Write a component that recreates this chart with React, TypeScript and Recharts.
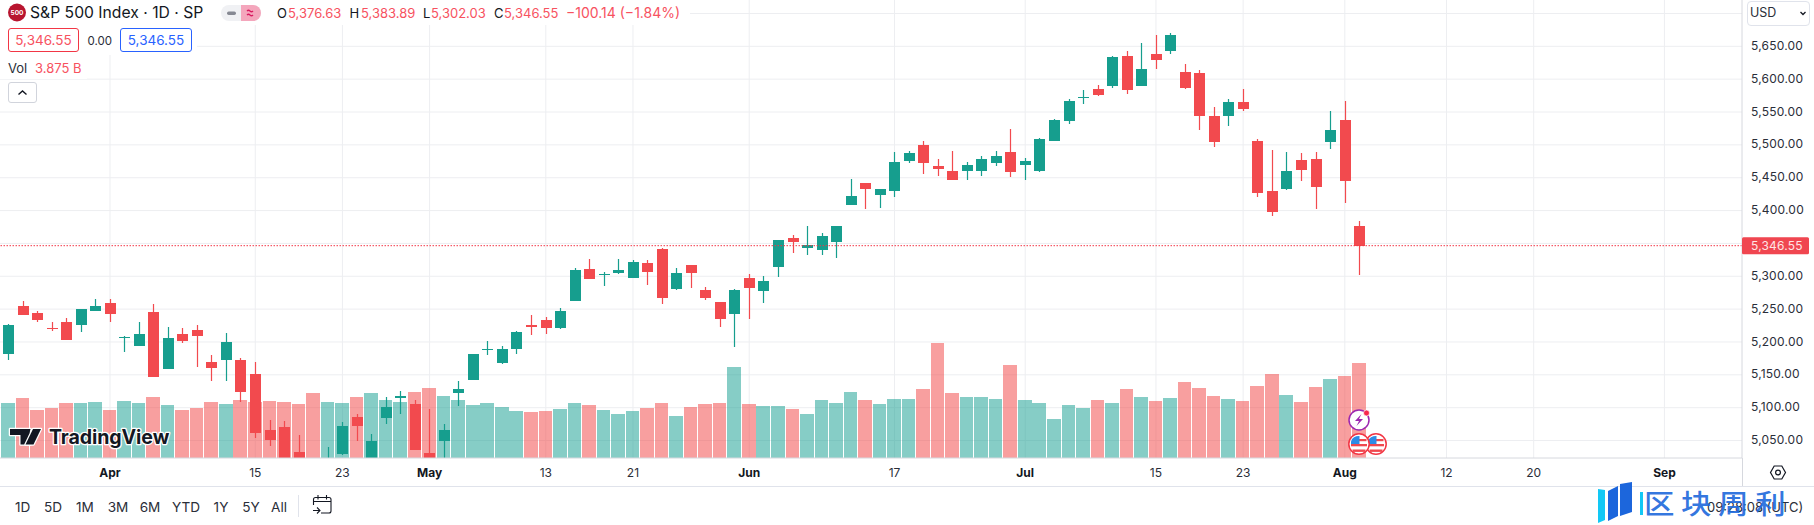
import React from "react";
import { ComposedChart, Bar, XAxis, YAxis, CartesianGrid, ReferenceLine } from "recharts";

// ---- series values ----
const opens = [5181.7,5254.8,5244.1,5221.3,5230.4,5225.9,5247.2,5259.4,5206.1,5193.9,5245.7,5158.9,5212.2,5218.3,5169.6,5172.6,5172.6,5151.3,5066.1,5070.6,5032,5005,4987,5029.5,5085.8,5019,5084.3,5114.8,5105.6,5031,5049.3,5122.4,5142.1,5187.8,5168,5189.3,5225.8,5233.4,5221.3,5262.3,5311.1,5302,5305,5297.4,5320.2,5341.5,5280.6,5317.2,5279.1,5260.8,5242.6,5297.4,5277.6,5314.1,5358.3,5343,5340,5352.2,5408.5,5442,5423.7,5429.8,5475.5,5499.8,5467.9,5460.3,5460.3,5460.3,5472.4,5489.2,5469.4,5460.3,5505.9,5536.3,5571.4,5585,5589.6,5635.3,5589.6,5638.3,5642.9,5611,5609.4,5544,5544,5565.3,5505.9,5429.8,5432.8,5477,5478.5,5504.4,5537.9,5376.63];
const highs = [5227.4,5262.4,5247.2,5230.4,5236.5,5250.2,5265.5,5265.5,5209.1,5230.4,5257.8,5222.8,5221.3,5225.9,5180.2,5213.7,5175.6,5169.6,5081.3,5079.8,5058,5019,5040,5078,5090.4,5060,5116.3,5125.4,5111.7,5098,5075.2,5140.6,5181.7,5201.5,5193.9,5216.7,5241.1,5238,5251.7,5312.6,5326.3,5306.5,5326.3,5324.8,5324.8,5343,5312.6,5317.2,5283.7,5260.8,5280.6,5303.5,5300.4,5355.2,5362.8,5376.5,5365.9,5376.5,5448,5442,5432.8,5489.2,5490.7,5505.9,5478.5,5490.7,5474,5483.1,5490.7,5524.2,5480,5510.5,5539.4,5569.8,5583.5,5591.2,5635.3,5642.9,5655.1,5667.3,5670.3,5623.1,5614,5557.7,5569.8,5585,5509,5492.2,5489.2,5487.6,5489.2,5551.6,5566.8,5383.89];
const lows = [5172.6,5241,5230.4,5216.7,5203,5215.2,5247,5230.4,5184.8,5193.9,5146.7,5158.9,5198.5,5161.9,5140.6,5140.6,5108.7,5053.9,5041.7,5010,5001,4953,4974,5028,5049.3,5000,5075.2,5090.4,5035.6,5006,5010,5102.5,5142.1,5180,5166.5,5181.7,5210.6,5212.1,5219.7,5262.3,5295.8,5285.2,5303.5,5297.4,5286.7,5257.8,5279.1,5282.1,5263.9,5222.8,5192.3,5235,5259.3,5298.9,5335.4,5332.4,5332.4,5327.8,5408.5,5402.4,5403.9,5420.7,5472.4,5455.7,5452.6,5446.5,5446.5,5452.6,5467.9,5451.1,5446.5,5458.7,5505.9,5531.8,5562.2,5574.4,5586.6,5577.5,5589.6,5615.5,5638.3,5585.1,5522.7,5496.8,5528.7,5551.6,5420.7,5391.7,5431.3,5445,5402.4,5493.7,5411.5,5302.03];
const closes = [5225.9,5241.1,5233.5,5219.8,5203,5250.2,5254.8,5242.6,5207.6,5212.2,5146.7,5206.1,5201.5,5209.1,5160.4,5200,5123.9,5061.5,5050.8,5022,5011,4967,5010,5072,5072,5049.3,5101,5117.8,5035.6,5018,5066,5128.4,5181.7,5189.3,5189.3,5215.2,5222.8,5221.3,5247.1,5309.5,5295.8,5303.5,5309.5,5321.7,5306.5,5266.9,5305,5305,5266.9,5235,5279.1,5282.1,5292.8,5355.2,5352.2,5347.6,5361.3,5376.5,5422.2,5432.8,5432.8,5473.9,5487.6,5472.4,5463.3,5446.5,5469.4,5478.5,5483.1,5458.7,5475.5,5509,5537.9,5566.8,5572.9,5575.9,5633.8,5583.5,5615.5,5629.2,5667.3,5586.6,5544,5504.4,5565.3,5554.6,5426.8,5397.8,5460.3,5461.8,5435.9,5522.7,5445,5346.55];
// volume in billions
const volumes = [2.26,2.46,1.97,2.05,2.26,2.26,2.30,1.97,2.34,2.26,2.50,2.18,1.97,2.05,2.30,2.22,2.38,2.30,2.34,2.30,2.22,2.67,2.30,2.26,2.50,2.67,2.38,2.30,2.71,2.87,2.54,2.38,2.18,2.26,2.09,1.93,1.89,1.93,2.01,2.26,2.18,1.97,1.81,1.93,2.05,2.26,1.73,2.09,2.22,2.26,3.73,2.22,2.13,2.13,2.01,1.81,2.38,2.26,2.71,2.38,2.22,2.42,2.41,2.81,4.69,2.65,2.49,2.49,2.41,3.79,2.37,2.24,1.59,2.16,2.04,2.37,2.24,2.81,2.49,2.32,2.45,3.10,2.86,2.53,2.41,2.32,2.94,3.43,2.57,2.28,2.90,3.22,3.34,3.875];

const xTickPositions = [7,17,23,29,37,43,51,61,70,79,85,92,99,105,114];
const xTickLabels = ["Apr","15","23","May","13","21","Jun","17","Jul","15","23","Aug","12","20","Sep"];
const monthLabels = ["Apr","May","Jun","Jul","Aug","Sep"];
const priceTicks = [5050,5100,5150,5200,5250,5300,5350,5400,5450,5500,5550,5600,5650];
const gridPrices = [...priceTicks,5700];
const lastClose = 5346.55;
const rangeButtons = [["1D",22.7],["5D",53],["1M",85],["3M",118],["6M",150],["YTD",186],["1Y",221],["5Y",251],["All",279]] as const;

const UP = "#169E8E";
const DOWN = "#F24A4E";
const UP_VOL = "rgb(14,155,142)";
const DOWN_VOL = "rgb(241,64,64)";
const TEXT = "#2A2E39";
const FONT = "Inter, 'Liberation Sans', sans-serif";

const rows = opens.map((o, i) => ({
  i,
  open: o,
  high: highs[i],
  low: lows[i],
  close: closes[i],
  volume: volumes[i],
  range: [lows[i], highs[i]] as [number, number],
}));

const XDOMAIN: [number, number] = [-0.571, 119.34];
const labelOf = (v: number) => xTickLabels[xTickPositions.indexOf(v)];

function Candle(props: any) {
  const { x, y, width, height, payload } = props;
  const { open, high, low, close } = payload;
  const unit = height / (high - low);
  const color = close >= open ? UP : DOWN;
  const top = y + (high - Math.max(open, close)) * unit;
  const bot = y + (high - Math.min(open, close)) * unit;
  const left = Math.round(x);
  const w = Math.round(width);
  const t = Math.round(top);
  const h = Math.max(1, Math.round(bot) - t);
  return (
    <g>
      <rect x={left + (w - 1) / 2 - 0.1} y={Math.round(y)} width={1.2} height={Math.round(y + height) - Math.round(y)} fill={color} />
      <rect x={left} y={t} width={w} height={h} fill={color} />
    </g>
  );
}

function VolumeBar(props: any) {
  const { x, y, width, height, payload } = props;
  const left = Math.round(x);
  const right = Math.round(x + width);
  const color = payload.close >= payload.open ? UP_VOL : DOWN_VOL;
  return <rect x={left} y={Math.round(y)} width={right - left} height={Math.round(height)} fill={color} fillOpacity={0.5} />;
}

function PriceTick(props: any) {
  const { y, payload } = props;
  const isLast = payload.value === lastClose;
  const label = payload.value.toLocaleString("en-US", { minimumFractionDigits: 2, maximumFractionDigits: 2 });
  return (
    <g>
      {isLast && <rect x={1742} y={y - 8.5} width={67} height={17} rx={1.5} fill="#F04650" />}
      <text x={1751} y={isLast ? y + 4 : y + 3.6} fill={isLast ? "#FFE4E4" : TEXT} fontFamily={FONT} fontSize={12} letterSpacing={0.2}>{label}</text>
    </g>
  );
}

function TimeTick(props: any) {
  const { x, payload } = props;
  const label = labelOf(payload.value);
  const bold = monthLabels.includes(label);
  return (
    <text x={x} y={477} textAnchor="middle" fill={bold ? "#131722" : TEXT} fontFamily={FONT} fontSize={12} fontWeight={bold ? 700 : 400}>{label}</text>
  );
}

const abs = (left: number, top: number, extra: React.CSSProperties = {}): React.CSSProperties => ({
  position: "absolute", left, top, whiteSpace: "nowrap", fontFamily: FONT, lineHeight: "16px", ...extra,
});

const RED_TEXT = "#F7525F";

function Legend() {
  const ohlc = [
    [277, "O"], [349.5, "H"], [423, "L"], [494, "C"],
  ] as const;
  const vals = [
    [288, "5,376.63"], [361, "5,383.89"], [431, "5,302.03"], [504, "5,346.55"],
  ] as const;
  return (
    <>
      <div style={{ position: "absolute", left: 0, top: 0, width: 690, height: 25, background: "#fff" }} />
      <div style={{ position: "absolute", left: 0, top: 25, width: 197, height: 30, background: "#fff" }} />
      <div style={{ position: "absolute", left: 0, top: 55, width: 87, height: 24, background: "#fff" }} />
      <div style={abs(30, 4, { fontSize: 15.7, color: "#131722", lineHeight: "18px" })}>S&amp;P 500 Index · 1D · SP</div>
      {ohlc.map(([l, s]) => <div key={s} style={abs(l, 5, { fontSize: 13, color: "#131722" })}>{s}</div>)}
      {vals.map(([l, s]) => <div key={s} style={abs(l, 5, { fontSize: 13, color: RED_TEXT })}>{s}</div>)}
      <div style={abs(566, 5, { fontSize: 14, color: RED_TEXT })}>{"\u2212100.14 (\u22121.84%)"}</div>
      <div style={abs(8, 28, { width: 71, height: 24, boxSizing: "border-box", border: "1px solid #F23645", borderRadius: 3, color: RED_TEXT, fontSize: 13.5, textAlign: "center", lineHeight: "22px" })}>5,346.55</div>
      <div style={abs(87.5, 33, { fontSize: 11.5, color: TEXT })}>0.00</div>
      <div style={abs(120, 28, { width: 72, height: 24, boxSizing: "border-box", border: "1px solid #2962FF", borderRadius: 3, color: "#2962FF", fontSize: 13.5, textAlign: "center", lineHeight: "22px" })}>5,346.55</div>
      <div style={abs(8, 60, { fontSize: 13, color: TEXT })}>Vol</div>
      <div style={abs(35, 60, { fontSize: 13, color: RED_TEXT })}>3.875 B</div>
      <div style={{ position: "absolute", left: 8, top: 82, width: 29, height: 21, boxSizing: "border-box", border: "1px solid #D1D4DC", borderRadius: 3, background: "#fff" }} />
      <div style={abs(1747, 0.5, { width: 63, height: 25, boxSizing: "border-box", border: "1px solid #E0E3EB", borderRadius: 4, background: "#fff" })} />
      <div style={abs(1750, 4.5, { fontSize: 12.5, color: TEXT })}>USD</div>
      {rangeButtons.map(([s, c]) => (
        <div key={s} style={abs(c - 20, 499, { width: 40, textAlign: "center", fontSize: 13.6, color: TEXT })}>{s}</div>
      ))}
      <div style={abs(1707, 499, { fontSize: 13, color: "#2A2E39" })}>09:28:08 (UTC)</div>
    </>
  );
}

function Decor() {
  return (
    <svg width={1814} height={525} style={{ position: "absolute", left: 0, top: 0, pointerEvents: "none" }}>
      {/* symbol logo */}
      <circle cx={17} cy={12.5} r={9} fill="#B8152F" />
      <text x={17} y={14.8} textAnchor="middle" fontSize={6.5} fontWeight={700} fill="#fff" fontFamily={FONT}>500</text>
      {/* market status pill */}
      <rect x={221} y={5} width={40} height={16} rx={8} fill="#F0F1F4" />
      <path d="M241 5 H253 a8 8 0 0 1 0 16 H241 Z" fill="#F4A6BC" />
      <rect x={227} y={11.5} width={9} height={3.5} rx={1.7} fill="#868993" />
      <path d="M247 11 q1.5 -1.5 3 0 t3 0 M247 15 q1.5 -1.5 3 0 t3 0" fill="none" stroke="#D81B60" strokeWidth={1.3} />
      {/* chevrons */}
      <path d="M18.5 94.5 L22.5 91 L26.5 94.5" fill="none" stroke="#131722" strokeWidth={1.4} />
      <path d="M1800.5 12 L1803 14.5 L1805.5 12" fill="none" stroke="#131722" strokeWidth={1.3} />
      {/* TradingView mark */}
      <g stroke="#fff" strokeWidth={2.5} paintOrder="stroke" strokeLinejoin="round">
        <path d="M10 429 H30.5 V444.5 H20.5 V435 H10 Z" fill="#131722" />
        <circle cx={34} cy={432.2} r={3} fill="#131722" />
        <path d="M41 429 L33.5 444.5 H25.5 L33 429 Z" fill="#131722" />
        <text x={49} y={444} fontSize={19.6} fontWeight={700} fontFamily={FONT} fill="#131722" letterSpacing={-0.1}>TradingView</text>
      </g>
      {/* event icons */}
      <circle cx={1359} cy={420} r={10} fill="#fff" stroke="#9C27B0" strokeWidth={1.5} />
      <path d="M1361.5 414 L1355 421 H1359 L1356.5 426 L1363 419 H1359 Z" fill="#9C27B0" />
      <circle cx={1366.5} cy={413} r={3} fill="#F7254D" stroke="#fff" strokeWidth={0.7} />
      {[1376, 1359].map((cx) => (
        <g key={cx}>
          <circle cx={cx} cy={444} r={10.2} fill="#fff" stroke="#F23645" strokeWidth={1.5} />
          <rect x={cx - 8} y={444} width={16} height={2.3} fill="#F0484E" />
          <rect x={cx - 6.5} y={449.5} width={13} height={2.4} fill="#F0484E" />
          <rect x={cx} y={439} width={7.5} height={2.2} fill="#F0484E" />
          <path d={`M${cx - 8} 444 V441.5 a8 7 0 0 1 8.5 -5.5 V444 Z`} fill="#2E8BE6" />
        </g>
      ))}
      {/* settings hexagon */}
      <path d="M1774.2 466 H1781.8 L1785.5 472.5 L1781.8 479 H1774.2 L1770.5 472.5 Z" fill="none" stroke="#131722" strokeWidth={1.2} />
      <circle cx={1778} cy={472.5} r={2.4} fill="none" stroke="#131722" strokeWidth={1.2} />
      {/* frame lines */}
      <line x1={1742.5} y1={458} x2={1742.5} y2={486} stroke="#D6D8DE" />
      <line x1={0} y1={486.5} x2={1814} y2={486.5} stroke="#E0E3EB" />
      <line x1={298.5} y1={495} x2={298.5} y2={517} stroke="#E0E3EB" />
      {/* calendar icon */}
      <path d="M313.5 505 V499.5 Q313.5 497.5 315.5 497.5 H329 Q331 497.5 331 499.5 V511 Q331 513 329 513 H321 M313.5 501.5 H331 M318 495 V499.5 M326.5 495 V499.5 M313 510.5 H319.5 M317 507.5 L320 510.5 L317 513.5" fill="none" stroke="#131722" strokeWidth={1.1} />
      {/* publisher watermark */}
      <polygon points="1598,489 1605,490 1605,520 1598,523" fill="#12C8F5" />
      <polygon points="1608,491 1618,486 1618,516 1608,521" fill="#1C66DC" />
      <polygon points="1620,484 1632,482 1632,512 1620,516" fill="#1C66DC" />
      <rect x={1640} y={492} width={3} height={23} fill="#12C8F5" />
      <g transform="translate(1644,514) scale(1.13,1)">
        <text x={0} y={0} fontFamily="'Noto Sans CJK SC'" fontWeight={500} fontSize={27} letterSpacing={5.8} fill="#1F6ADC" fillOpacity={0.92}>区块周利</text>
      </g>
    </svg>
  );
}

export default function App() {
  return (
    <div style={{ position: "absolute", left: 0, top: 0, width: 1814, height: 525, background: "#fff", overflow: "hidden" }}>
      <ComposedChart width={1814} height={525} data={rows} margin={{ top: 0, right: 0, bottom: 39, left: 0 }}>
        <XAxis
          dataKey="i"
          type="number"
          domain={XDOMAIN}
          allowDataOverflow
          ticks={xTickPositions}
          interval={0}
          height={28}
          tickLine={false}
          axisLine={{ stroke: "#D6D8DE" }}
          tick={<TimeTick />}
        />
        <XAxis xAxisId="vol" dataKey="i" type="number" domain={XDOMAIN} allowDataOverflow hide />
        <YAxis
          orientation="right"
          width={72}
          type="number"
          domain={[5023.4, 5720.5]}
          allowDataOverflow
          ticks={[...priceTicks, lastClose]}
          interval={0}
          tickLine={false}
          axisLine={{ stroke: "#D6D8DE" }}
          tick={<PriceTick />}
        />
        <YAxis yAxisId="vol" orientation="left" type="number" width={0} domain={[0, 18.68]} allowDataOverflow hide />
        <CartesianGrid
          stroke="#EDEEF1"
          horizontalValues={gridPrices}
          verticalValues={xTickPositions}
        />
        <Bar xAxisId="vol" yAxisId="vol" dataKey="volume" barSize={13.6} shape={<VolumeBar />} isAnimationActive={false} />
        <ReferenceLine y={lastClose} stroke="#F23645" strokeDasharray="1.5 1.5" strokeWidth={1} />
        <Bar dataKey="range" barSize={11} shape={<Candle />} isAnimationActive={false} />
      </ComposedChart>
      <Legend />
      <Decor />
    </div>
  );
}
